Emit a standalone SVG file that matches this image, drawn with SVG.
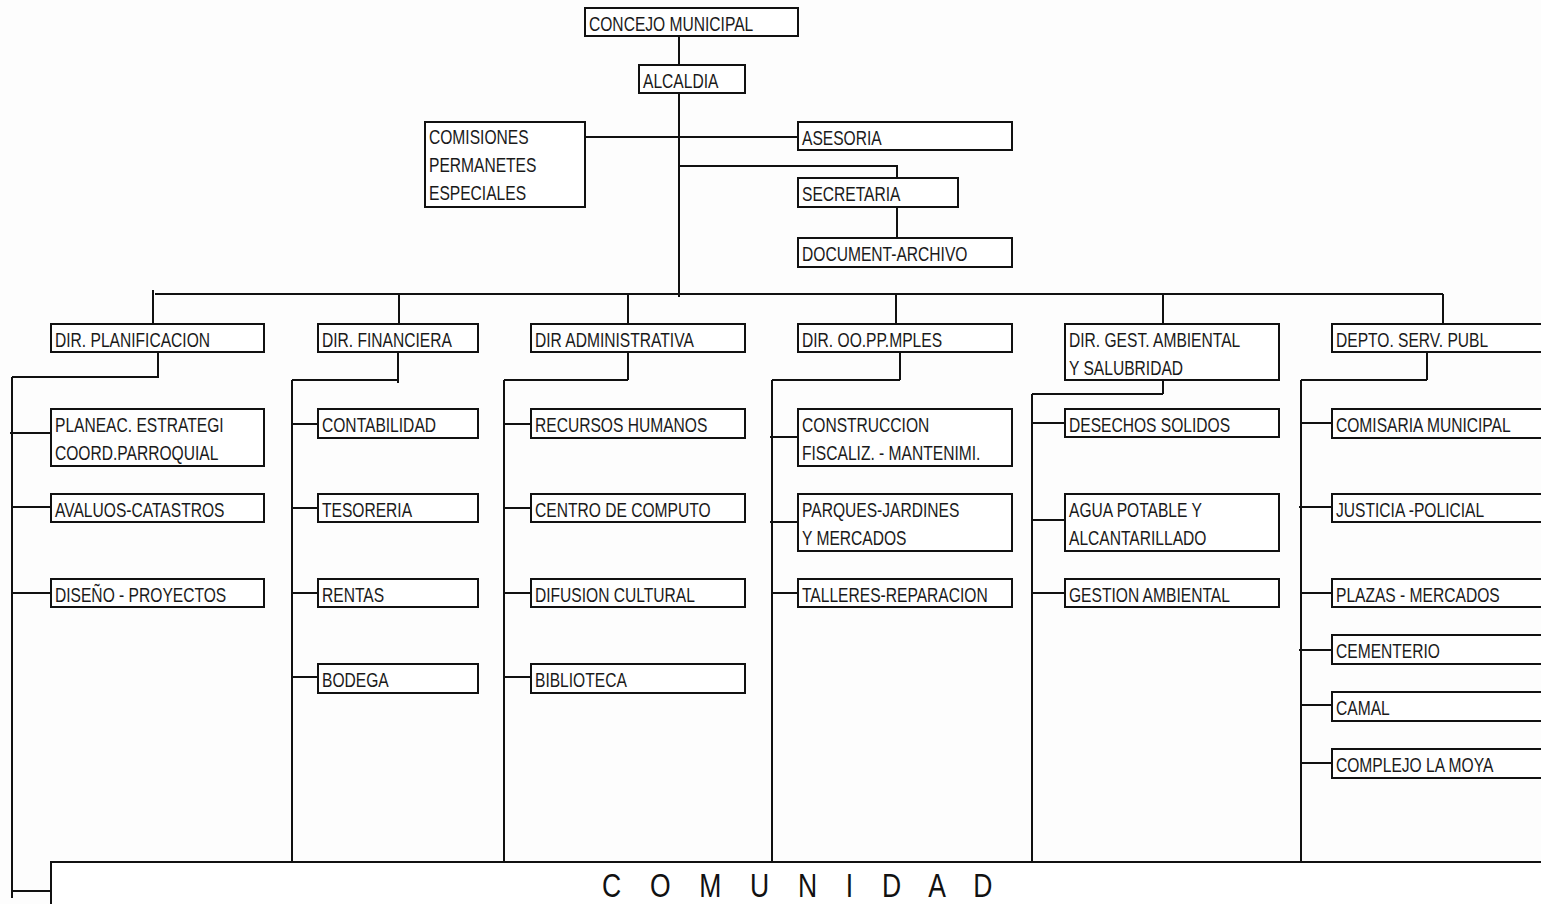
<svg xmlns="http://www.w3.org/2000/svg" width="1541" height="904" viewBox="0 0 1541 904">
<style>
.bx{fill:#fff;stroke:#111;stroke-width:2}
.ln{fill:none;stroke:#111;stroke-width:2}
.t{font-family:"Liberation Sans",Arial,sans-serif;font-size:20px;fill:#1a1a1a;transform-box:fill-box;transform-origin:0 50%;transform:scaleX(0.78)}
.big{font-family:"Liberation Sans",Arial,sans-serif;font-size:34px;fill:#111;letter-spacing:13.7px;transform-box:fill-box;transform-origin:0 50%;transform:scaleX(0.78)}
</style>
<rect x="0" y="0" width="1541" height="904" fill="#fdfdfd"/>
<g id="connectors" class="ln">
<path d="M679,36V65 M679,93V297 M585,137H798 M679,166H897V178 M897,207V238
M155,294H1443 M153,290V323 M399,294V323 M628,294V323 M896,294V323 M1163,294V323 M1443,294V323
M158,352V378 M12,377H158 M12,377V898 M10,433H51 M12,507H51 M12,593H51 M12,891H51
M398,352V383 M292,380H398 M292,380V862 M292,424H318 M292,508H318 M292,593H318 M292,677H318
M628,352V380 M504,380H628 M504,380V862 M504,424H531 M504,508H531 M504,593H531 M504,677H531
M900,352V380 M772,380H900 M772,380V866 M770,437H798 M770,522H798 M772,593H798
M1163,380V394 M1032,394H1163 M1032,394V862 M1032,423H1065 M1032,520H1065 M1032,593H1065
M1427,352V380 M1301,380H1427 M1301,380V862 M1301,423H1332 M1299,507H1332 M1301,593H1332 M1299,650H1332 M1301,705H1332 M1301,763H1332"/>
</g>
<g id="concejo"><rect class="bx" x="585" y="8" width="213" height="28"/><text class="t" x="589" y="31">CONCEJO MUNICIPAL</text></g>
<g id="alcaldia"><rect class="bx" x="639" y="65" width="106" height="28"/><text class="t" x="643" y="88">ALCALDIA</text></g>
<g id="comisiones"><rect class="bx" x="425" y="122" width="160" height="85"/><text class="t" x="429" y="144">COMISIONES</text><text class="t" x="429" y="172">PERMANETES</text><text class="t" x="429" y="200">ESPECIALES</text></g>
<g id="asesoria"><rect class="bx" x="798" y="122" width="214" height="28"/><text class="t" x="802" y="145">ASESORIA</text></g>
<g id="secretaria"><rect class="bx" x="798" y="178" width="160" height="29"/><text class="t" x="802" y="201">SECRETARIA</text></g>
<g id="document"><rect class="bx" x="798" y="238" width="214" height="29"/><text class="t" x="802" y="261">DOCUMENT-ARCHIVO</text></g>

<g id="dir-planificacion"><rect class="bx" x="51" y="324" width="213" height="28"/><text class="t" x="55" y="347">DIR. PLANIFICACION</text></g>
<g id="dir-financiera"><rect class="bx" x="318" y="324" width="160" height="28"/><text class="t" x="322" y="347">DIR. FINANCIERA</text></g>
<g id="dir-administrativa"><rect class="bx" x="531" y="324" width="214" height="28"/><text class="t" x="535" y="347">DIR ADMINISTRATIVA</text></g>
<g id="dir-oopp"><rect class="bx" x="798" y="324" width="214" height="28"/><text class="t" x="802" y="347">DIR. OO.PP.MPLES</text></g>
<g id="dir-ambiental"><rect class="bx" x="1065" y="324" width="214" height="56"/><text class="t" x="1069" y="347">DIR. GEST. AMBIENTAL</text><text class="t" x="1069" y="375">Y SALUBRIDAD</text></g>
<g id="depto-serv"><rect class="bx" x="1332" y="324" width="220" height="28"/><text class="t" x="1336" y="347">DEPTO. SERV. PUBL</text></g>

<g id="planeac"><rect class="bx" x="51" y="409" width="213" height="57"/><text class="t" x="55" y="432">PLANEAC. ESTRATEGI</text><text class="t" x="55" y="460">COORD.PARROQUIAL</text></g>
<g id="avaluos"><rect class="bx" x="51" y="494" width="213" height="28"/><text class="t" x="55" y="517">AVALUOS-CATASTROS</text></g>
<g id="diseno"><rect class="bx" x="51" y="579" width="213" height="28"/><text class="t" x="55" y="602">DISEÑO - PROYECTOS</text></g>

<g id="contabilidad"><rect class="bx" x="318" y="409" width="160" height="29"/><text class="t" x="322" y="432">CONTABILIDAD</text></g>
<g id="tesoreria"><rect class="bx" x="318" y="494" width="160" height="28"/><text class="t" x="322" y="517">TESORERIA</text></g>
<g id="rentas"><rect class="bx" x="318" y="579" width="160" height="28"/><text class="t" x="322" y="602">RENTAS</text></g>
<g id="bodega"><rect class="bx" x="318" y="664" width="160" height="29"/><text class="t" x="322" y="687">BODEGA</text></g>

<g id="recursos"><rect class="bx" x="531" y="409" width="214" height="29"/><text class="t" x="535" y="432">RECURSOS HUMANOS</text></g>
<g id="computo"><rect class="bx" x="531" y="494" width="214" height="28"/><text class="t" x="535" y="517">CENTRO DE COMPUTO</text></g>
<g id="difusion"><rect class="bx" x="531" y="579" width="214" height="28"/><text class="t" x="535" y="602">DIFUSION CULTURAL</text></g>
<g id="biblioteca"><rect class="bx" x="531" y="664" width="214" height="29"/><text class="t" x="535" y="687">BIBLIOTECA</text></g>

<g id="construccion"><rect class="bx" x="798" y="409" width="214" height="57"/><text class="t" x="802" y="432">CONSTRUCCION</text><text class="t" x="802" y="460">FISCALIZ. - MANTENIMI.</text></g>
<g id="parques"><rect class="bx" x="798" y="494" width="214" height="57"/><text class="t" x="802" y="517">PARQUES-JARDINES</text><text class="t" x="802" y="545">Y MERCADOS</text></g>
<g id="talleres"><rect class="bx" x="798" y="579" width="214" height="28"/><text class="t" x="802" y="602">TALLERES-REPARACION</text></g>

<g id="desechos"><rect class="bx" x="1065" y="409" width="214" height="28"/><text class="t" x="1069" y="432">DESECHOS SOLIDOS</text></g>
<g id="agua"><rect class="bx" x="1065" y="494" width="214" height="57"/><text class="t" x="1069" y="517">AGUA POTABLE Y</text><text class="t" x="1069" y="545">ALCANTARILLADO</text></g>
<g id="gestion"><rect class="bx" x="1065" y="579" width="214" height="28"/><text class="t" x="1069" y="602">GESTION AMBIENTAL</text></g>

<g id="comisaria"><rect class="bx" x="1332" y="409" width="220" height="29"/><text class="t" x="1336" y="432">COMISARIA MUNICIPAL</text></g>
<g id="justicia"><rect class="bx" x="1332" y="494" width="220" height="28"/><text class="t" x="1336" y="517">JUSTICIA -POLICIAL</text></g>
<g id="plazas"><rect class="bx" x="1332" y="579" width="220" height="28"/><text class="t" x="1336" y="602">PLAZAS - MERCADOS</text></g>
<g id="cementerio"><rect class="bx" x="1332" y="635" width="220" height="29"/><text class="t" x="1336" y="658">CEMENTERIO</text></g>
<g id="camal"><rect class="bx" x="1332" y="692" width="220" height="29"/><text class="t" x="1336" y="715">CAMAL</text></g>
<g id="complejo"><rect class="bx" x="1332" y="749" width="220" height="29"/><text class="t" x="1336" y="772">COMPLEJO LA MOYA</text></g>

<g id="comunidad"><rect class="bx" x="51" y="862" width="1510" height="60"/><text class="big" x="602" y="897">C O M U N I D A D</text></g>
</svg>
